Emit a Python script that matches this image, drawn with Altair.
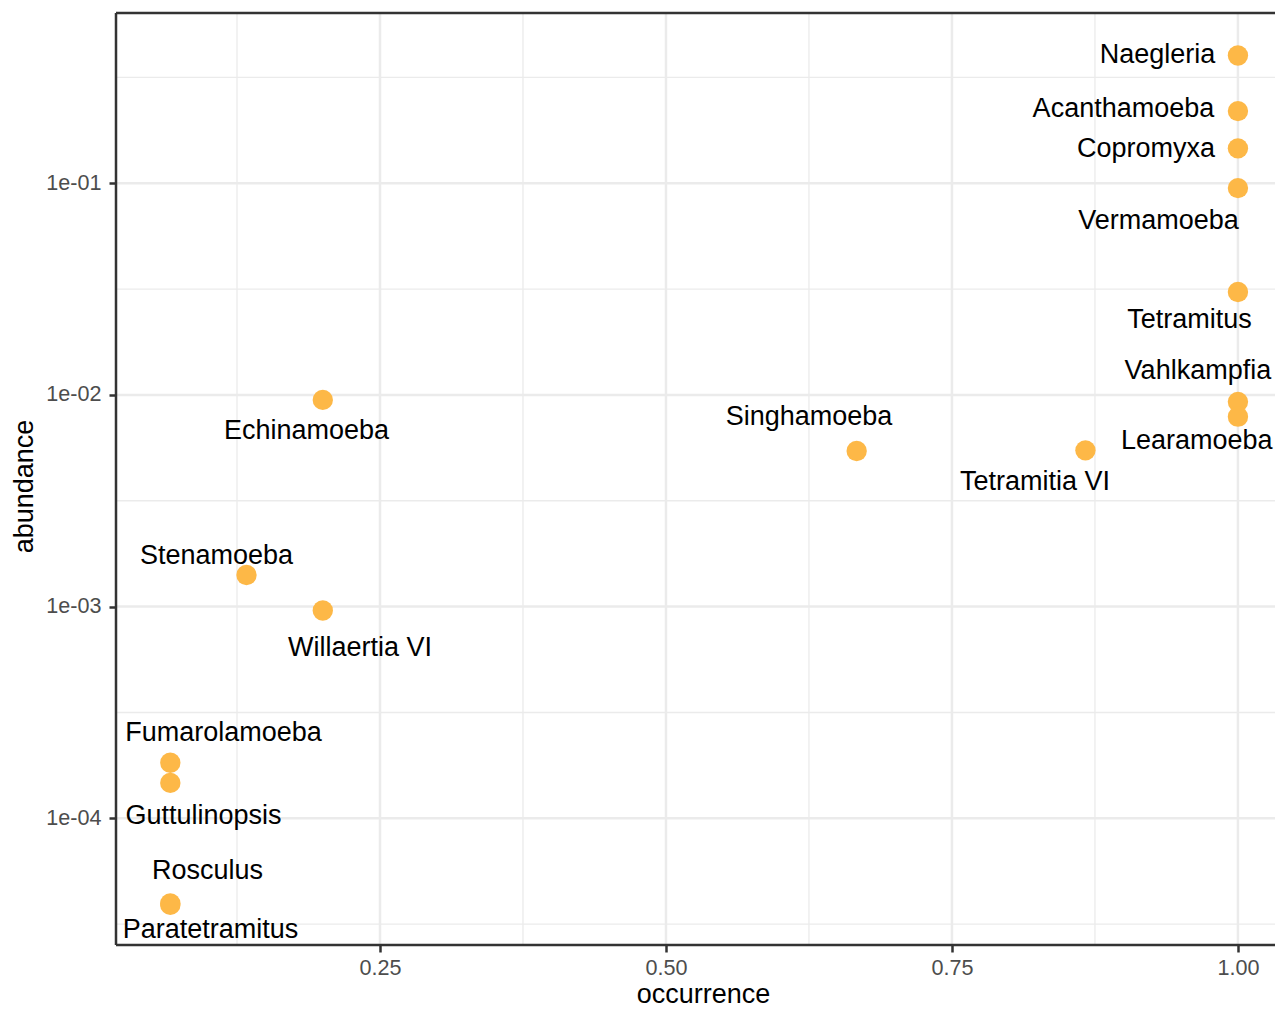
import altair as alt
import pandas as pd

genus = ["Naegleria", "Acanthamoeba", "Copromyxa", "Vermamoeba", "Tetramitus",
         "Vahlkampfia", "Learamoeba", "Tetramitia VI", "Singhamoeba", "Echinamoeba",
         "Stenamoeba", "Willaertia VI", "Fumarolamoeba", "Guttulinopsis", "Rosculus",
         "Paratetramitus"]
occurrence = [1.0, 1.0, 1.0, 1.0, 1.0, 1.0, 1.0, 0.8667, 0.6667, 0.2,
              0.1333, 0.2, 0.0667, 0.0667, 0.0667, 0.0667]
abundance = [0.401, 0.219, 0.146, 0.0948, 0.0306, 0.00927, 0.00789, 0.00547, 0.00543, 0.00947,
             0.00141, 0.000958, 0.000183, 0.000147, 3.96e-5, 3.9e-5]
# label anchor positions (ggrepel-style, in data units)
label_occurrence = [0.9297, 0.8999, 0.9196, 0.9305, 0.9576, 0.9650, 0.9640, 0.8226, 0.6250, 0.1858,
                    0.1071, 0.2325, 0.1132, 0.0957, 0.0992, 0.1018]
label_abundance = [0.4027, 0.2229, 0.1449, 0.0661, 0.02253, 0.01302, 0.006063, 0.003859, 0.00785, 0.006752,
                   0.00174, 0.00064, 0.0002536, 0.0001027, 5.623e-5, 2.979e-5]

x_ticks = [0.25, 0.5, 0.75, 1.0]
x_tick_labels = ["0.25", "0.50", "0.75", "1.00"]
x_minor = [0.125, 0.375, 0.625, 0.875]
y_ticks = [1e-1, 1e-2, 1e-3, 1e-4]
y_tick_labels = ["1e-01", "1e-02", "1e-03", "1e-04"]
y_minor = [0.3162, 0.03162, 0.003162, 0.0003162, 3.162e-5]

x_domain = [0.01923, 1.0324]
y_domain = [2.5221e-5, 0.6364]


def label_expr(values, labels):
    expr = "''"
    for v, l in reversed(list(zip(values, labels))):
        expr = f"abs(datum.value - {v}) < {abs(v) * 1e-6} ? '{l}' : ({expr})"
    return expr


df = pd.DataFrame({
    "genus": genus,
    "occurrence": occurrence,
    "abundance": abundance,
    "label_occurrence": label_occurrence,
    "label_abundance": label_abundance,
})

FONT = "Liberation Sans"
GRID = "#EBEBEB"
BORDER = "#333333"
xs = alt.Scale(domain=x_domain, nice=False, zero=False)
ys = alt.Scale(type="log", domain=y_domain, nice=False)

axis_common = dict(
    grid=False, domain=False, tickColor=BORDER, tickWidth=2.5, tickSize=7,
    labelFont=FONT, labelFontSize=21.6, labelColor="#4D4D4D",
    titleFont=FONT, titleFontSize=27, titleFontWeight="normal", titleColor="black",
)
x_axis = alt.Axis(values=x_ticks, labelExpr=label_expr(x_ticks, x_tick_labels),
                  labelPadding=5, titlePadding=3, titleX=587, title="occurrence", **axis_common)
y_axis = alt.Axis(values=y_ticks, labelExpr=label_expr(y_ticks, y_tick_labels),
                  labelPadding=8, titlePadding=7, titleY=473, title="abundance", **axis_common)


def xenc(field):
    return alt.X(field, type="quantitative", scale=xs, axis=x_axis, title="occurrence")


def yenc(field):
    return alt.Y(field, type="quantitative", scale=ys, axis=y_axis, title="abundance")


x_minor_rules = alt.Chart(pd.DataFrame({"v": x_minor})).mark_rule(
    color=GRID, strokeWidth=1.3).encode(x=xenc("v"))
y_minor_rules = alt.Chart(pd.DataFrame({"v": y_minor})).mark_rule(
    color=GRID, strokeWidth=1.3).encode(y=yenc("v"))
x_major_rules = alt.Chart(pd.DataFrame({"v": x_ticks})).mark_rule(
    color=GRID, strokeWidth=2.5).encode(x=xenc("v"))
y_major_rules = alt.Chart(pd.DataFrame({"v": y_ticks})).mark_rule(
    color=GRID, strokeWidth=2.5).encode(y=yenc("v"))

points = alt.Chart(df).mark_circle(size=415, color="#FDB847", opacity=1).encode(
    x=xenc("occurrence"),
    y=yenc("abundance"),
)

labels = alt.Chart(df).mark_text(
    font=FONT, fontSize=27, color="black", align="center", baseline="middle"
).encode(
    x=xenc("label_occurrence"),
    y=yenc("label_abundance"),
    text="genus:N",
)

# panel border (left, top, bottom; the right side falls beyond the picture edge)
border_x = alt.Chart(pd.DataFrame({"v": [x_domain[0]]})).mark_rule(
    color=BORDER, strokeWidth=2.5).encode(x=xenc("v"))
border_y = alt.Chart(pd.DataFrame({"v": y_domain})).mark_rule(
    color=BORDER, strokeWidth=2.5).encode(y=yenc("v"))

chart = alt.layer(
    x_minor_rules, y_minor_rules, x_major_rules, y_major_rules, points, labels,
    border_x, border_y
).properties(
    width=1159, height=932,
    autosize=alt.AutoSizeParams(type="none"),
    padding={"left": 108, "top": 5, "right": 0, "bottom": 63},
    background="white",
).configure_view(
    strokeWidth=0
)

chart.save("out.html", embed_options={"renderer": "svg", "actions": False})
